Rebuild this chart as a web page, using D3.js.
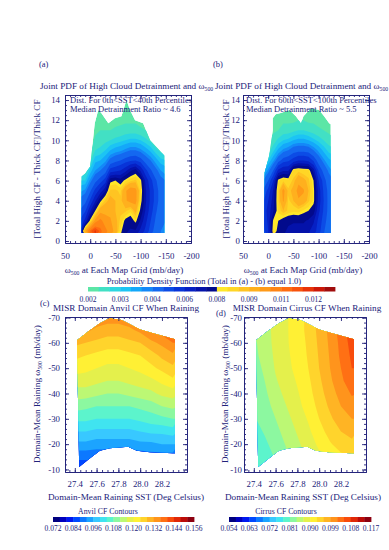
<!DOCTYPE html>
<html>
<head>
<meta charset="utf-8">
<script src="https://cdn.jsdelivr.net/npm/d3@7/dist/d3.min.js"></script>
<style>
  body { margin: 0; background: #fff; }
  svg { display: block; font-family: "Liberation Serif", "DejaVu Serif", serif; }
</style>
</head>
<body>
<svg id="fig" width="389" height="550"></svg>
<script>
(function() {
  'use strict';

  // ---- joint PDF grids (a), (b) ----
  // omega bins (mb/day) and detrainment-ratio bins
  var omegaBins = [20, 10, 0, -10, -20, -30, -40, -50, -60, -70, -80, -90, -100, -110, -120, -130, -140, -150];
  var ratioBins = [14, 13, 12, 11, 10, 9, 8, 7, 6, 5, 4, 3, 2, 1];

  // PDF x 1e-4, one list per omega bin, ratio 14 -> 1
  var pdfLowSst = [
    [20,20,20,20,20,20,22,25,30,36,42,48,54,60],
    [20,20,20,20,20,20,22,25,30,38,45,52,62,95],
    [20,20,20,20,20,22,26,31,38,46,54,66,82,112],
    [20,20,21,22,24,27,32,37,45,55,66,80,100,118],
    [20,20,21,23,25,28,33,40,50,63,78,95,105,112],
    [20,20,21,23,26,30,36,44,56,72,88,95,100,105],
    [20,20,21,23,27,33,42,56,78,88,92,95,98,100],
    [20,20,21,24,28,35,45,58,80,88,90,90,92,95],
    [20,20,22,24,29,36,47,60,76,86,88,88,86,82],
    [20,21,22,25,30,38,50,65,82,96,96,88,78,74],
    [20,21,22,25,31,40,52,72,86,102,100,84,76,72],
    [20,21,22,25,31,40,53,76,88,100,100,92,82,72],
    [20,20,21,24,30,38,50,66,82,85,83,78,72,65],
    [20,20,21,23,28,35,44,55,65,68,68,66,62,58],
    [20,20,20,22,26,32,40,48,55,58,58,56,53,50],
    [20,20,20,21,24,28,35,42,48,50,50,48,46,44],
    [20,20,20,20,22,26,31,37,42,44,44,43,42,40],
    [20,20,20,20,21,25,30,35,40,42,42,41,40,38]
  ];
  var pdfHighSst = [
    [20,20,20,20,20,20,24,30,36,44,48,50,48,46],
    [20,20,20,20,20,22,26,32,40,48,52,54,52,50],
    [20,20,20,20,22,25,30,38,47,55,60,63,62,60],
    [20,20,20,22,25,29,36,47,60,68,70,72,81,84],
    [20,20,21,23,28,34,44,62,82,86,86,84,80,78],
    [20,20,22,25,30,38,50,66,86,100,98,90,76,74],
    [20,20,22,25,31,40,52,66,84,88,86,86,74,72],
    [20,21,22,26,33,44,56,84,88,92,90,84,74,70],
    [20,21,23,27,34,45,60,86,95,100,96,85,74,70],
    [20,21,23,27,34,45,60,84,92,98,94,82,74,70],
    [20,21,22,26,33,44,58,84,88,90,88,80,72,68],
    [20,20,22,25,31,40,52,70,80,82,82,76,68,64],
    [20,20,21,24,29,36,44,52,60,64,64,62,58,56],
    [20,20,21,23,27,32,38,45,50,52,53,52,50,48],
    [20,20,20,22,25,29,34,39,43,45,45,45,44,42],
    [20,20,20,21,24,28,32,36,40,42,42,42,41,40],
    [20,20,20,21,24,28,32,36,40,42,42,42,41,40],
    [20,20,20,21,24,28,32,36,40,42,42,42,41,40]
  ];

  // sampled region outlines
  var outlineLowOmega = [17, 17, 10, 0, -9, -16, -22, -36, -49, -62, -72, -79, -89, -105, -119, -147, -147];
  var outlineLowRatio = [0.8, 6.4, 6.7, 7.4, 11.7, 13.0, 12.7, 11.7, 12.2, 12.4, 14.0, 13.0, 12.0, 11.7, 10.0, 8.5, 0.8];
  var outlineHighOmega = [8, 7, -2, -9, -9, -15, -25, -42, -55, -65, -70, -85, -101, -111, -121, -124, -124];
  var outlineHighRatio = [0.8, 6.8, 8.5, 11.0, 12.2, 12.6, 12.7, 13.0, 12.4, 11.7, 12.4, 13.2, 13.0, 12.4, 11.7, 11.6, 0.8];

  var pdfLevels = [0.0020, 0.0023, 0.0027, 0.0030, 0.0033, 0.0037, 0.0040, 0.0047, 0.0053, 0.0060, 0.0067, 0.0073,
                   0.0080, 0.0083, 0.0087, 0.0090, 0.0097, 0.0103, 0.0110, 0.0113, 0.0117, 0.0120, 0.0125];
  var pdfColors = ['#5ce6a6', '#42e0c4', '#2cd6e0', '#1cc4f4', '#14a8fa', '#1488f8', '#1468f0', '#0c4ce6',
                   '#0834d8', '#0620c4', '#0412aa', '#020a8c',
                   '#ffe82a', '#ffd626', '#ffc422', '#ffb01e', '#ff9a18', '#ff8414', '#ff6c10', '#f8520c',
                   '#e83408', '#cc1808', '#a00c0c'];
  var pdfLabels = ['0.002', '0.003', '0.004', '0.006', '0.008', '0.009', '0.011', '0.012'];

  // ---- cloud fraction grids (c), (d) ----
  var sstBins = [27.4, 27.5, 27.6, 27.7, 27.8, 27.9, 28.0, 28.1, 28.2, 28.3];
  var rainOmegaBins = [-70, -65, -60, -55, -50, -45, -40, -35, -30, -25, -20, -15, -10];

  // CF x 1e-3, one list per omega bin, SST 27.4 -> 28.3
  var anvilCF = [
    [138,137,135,134,134,135,137,140,143,146],
    [134,133,131,130,130,131,133,136,138,141],
    [129,128,127,126,126,127,128,131,133,136],
    [125,124,123,122,122,123,124,126,129,131],
    [122,121,120,119,119,120,121,123,125,127],
    [118,118,117,116,116,117,118,119,121,123],
    [114,114,113,112,112,113,114,115,117,118],
    [110,109,108,108,108,108,109,110,112,113],
    [105,105,104,104,104,104,105,106,107,108],
    [100,100,99,99,99,99,100,101,101,102],
    [95,95,94,94,94,94,95,95,96,96],
    [89,89,89,89,89,89,89,90,90,90],
    [85,85,85,85,85,85,85,85,85,85]
  ];
  var cirrusCF = [
    [84.0,85.8,87.9,89.7,91.5,93.9,96.9,100.2,103.8,107.4],
    [84.0,85.8,87.9,89.7,91.5,93.9,96.9,99.9,103.5,106.8],
    [83.4,85.5,87.9,89.7,91.2,93.6,96.6,99.6,102.9,106.2],
    [83.1,85.2,87.6,89.4,91.2,93.3,96.3,99.3,102.6,105.6],
    [82.5,84.6,87.3,89.1,90.9,93.0,96.0,99.0,102.0,105.0],
    [82.2,84.0,86.7,88.5,90.3,92.4,95.4,98.4,101.4,103.8],
    [81.9,83.4,85.8,87.9,89.7,91.8,94.8,97.5,100.2,102.3],
    [81.3,82.8,84.9,87.0,89.1,91.2,93.9,96.6,99.0,100.8],
    [80.7,82.2,84.0,86.1,88.2,90.3,93.0,95.4,97.8,99.0],
    [79.8,81.3,83.1,85.2,87.3,89.4,91.8,94.2,96.0,97.2],
    [78.9,80.4,82.2,84.3,86.4,88.5,90.6,92.7,94.2,95.1],
    [78.0,79.5,81.3,83.4,85.5,87.6,89.4,91.2,92.4,93.0],
    [77.1,78.6,80.4,82.5,84.6,86.7,88.2,89.7,90.6,91.2]
  ];

  // raining-domain outline (shared by (c) and (d))
  var rainTopSst = [27.42, 27.52, 27.63, 27.72, 27.83, 27.88, 28.0, 28.12, 28.32];
  var rainTopOmega = [-61.0, -64.4, -67.7, -69.7, -69.0, -67.9, -65.3, -63.8, -61.4];
  var rainBotSst = [28.32, 28.30, 28.09, 27.97, 27.89, 27.72, 27.63, 27.54, 27.44];
  var rainBotOmega = [-16.4, -16.4, -16.8, -17.4, -19.0, -18.4, -17.4, -14.4, -11.0];

  var anvilLevels = [0.072, 0.076, 0.080, 0.084, 0.088, 0.092, 0.096, 0.100, 0.104, 0.108, 0.112,
                     0.116, 0.120, 0.124, 0.128, 0.132, 0.136, 0.140, 0.144, 0.148, 0.152];
  var cirrusLevels = [0.054, 0.057, 0.060, 0.063, 0.066, 0.069, 0.072, 0.075, 0.078, 0.081, 0.084,
                      0.087, 0.090, 0.093, 0.096, 0.099, 0.102, 0.105, 0.108, 0.111, 0.114];
  var cfColors = ['#00007f', '#0000bf', '#0018f0', '#0048ff', '#0c78ff', '#1ca4ff', '#38c8ff', '#40e4f0',
                  '#5cf4cc', '#8cf8a0', '#bcf874', '#e4f04c', '#fff034', '#ffd42c', '#ffb424', '#ff941c',
                  '#ff7014', '#f84c0c', '#e02808', '#bc0c08', '#8c0010'];
  var anvilLabels = ['0.072', '0.084', '0.096', '0.108', '0.120', '0.132', '0.144', '0.156'];
  var cirrusLabels = ['0.054', '0.063', '0.072', '0.081', '0.090', '0.099', '0.108', '0.117'];

  var ink = '#22227a';
  var svg = d3.select('#fig');
  var defs = svg.append('defs');

  function txt(x, y, size, s, anchor) {
    return svg.append('text').attr('x', x).attr('y', y)
      .attr('font-size', size).attr('fill', ink)
      .attr('text-anchor', anchor || 'start').text(s);
  }

  // text with an omega-500 subscript in the middle
  function omegaText(sel, before, after, size) {
    sel.attr('font-size', size).attr('fill', ink);
    sel.append('tspan').text(before + '\u03c9');
    sel.append('tspan').attr('font-size', size * 0.62).attr('dy', 2).text('500');
    if (after) sel.append('tspan').attr('dy', -2).text(after);
    return sel;
  }

  // IDL-like box with inward ticks on all four sides
  function frame(x, y, o) {
    var g = svg.append('g').attr('color', ink).attr('font-family', null);
    var xl = x.range()[0], xr = x.range()[1], yb = y.range()[0], yt = y.range()[1];
    function put(axis, tx, ty) {
      var a = g.append('g').attr('transform', 'translate(' + tx + ',' + ty + ')').call(axis);
      a.selectAll('text').attr('font-size', 8.8).attr('fill', ink)
        .attr('font-family', '"Liberation Serif", serif');
      a.selectAll('path, line').attr('stroke', ink).attr('stroke-width', 0.9);
      return a;
    }
    var f = function(d) { return String(d); };
    put(d3.axisBottom(x).tickValues(o.xTicks).tickSize(-4).tickSizeOuter(0).tickPadding(o.xPad).tickFormat(o.xFmt || f), 0, yb);
    put(d3.axisBottom(x).tickValues(o.xMinor).tickSize(-2).tickSizeOuter(0).tickFormat(''), 0, yb);
    put(d3.axisTop(x).tickValues(o.xTicks).tickSize(-4).tickSizeOuter(0).tickFormat(''), 0, yt);
    put(d3.axisTop(x).tickValues(o.xMinor).tickSize(-2).tickSizeOuter(0).tickFormat(''), 0, yt);
    put(d3.axisLeft(y).tickValues(o.yTicks).tickSize(-4).tickSizeOuter(0).tickPadding(o.yPad).tickFormat(f), xl, 0);
    put(d3.axisLeft(y).tickValues(o.yMinor).tickSize(-2).tickSizeOuter(0).tickFormat(''), xl, 0);
    put(d3.axisRight(y).tickValues(o.yTicks).tickSize(-4).tickSizeOuter(0).tickFormat(''), xr, 0);
    put(d3.axisRight(y).tickValues(o.yMinor).tickSize(-2).tickSizeOuter(0).tickFormat(''), xr, 0);
  }

  // filled contours of a grid, clipped to the sampled outline
  function field(id, values, nx, ny, toPx, levels, colors, outline) {
    var contours = d3.contours().size([nx, ny]).thresholds(levels.slice(1))(values);
    var path = d3.geoPath(d3.geoTransform({
      point: function(cx, cy) {
        var p = toPx(cx, cy);
        this.stream.point(p[0], p[1]);
      }
    }));
    var ring = d3.line()(outline) + 'Z';
    defs.append('clipPath').attr('id', id).append('path').attr('d', ring);
    var g = svg.append('g').attr('clip-path', 'url(#' + id + ')');
    g.append('path').attr('d', ring).attr('fill', colors[0]);
    g.selectAll('path.band').data(contours).join('path')
      .attr('class', 'band')
      .attr('d', path)
      .attr('fill', function(d, i) { return colors[i + 1]; });
  }

  function colorBar(x0, x1, y, h, colors, labels, every, labelY) {
    var s = d3.scaleLinear().domain([0, colors.length]).range([x0, x1]);
    svg.append('g').selectAll('rect').data(colors).join('rect')
      .attr('x', function(d, i) { return s(i); })
      .attr('y', y)
      .attr('width', s(1) - s(0) + 0.4)
      .attr('height', h)
      .attr('fill', function(d) { return d; });
    svg.append('g').selectAll('text').data(labels).join('text')
      .attr('x', function(d, i) { return s(i * every); })
      .attr('y', labelY)
      .attr('text-anchor', 'middle')
      .attr('font-size', 7.5)
      .attr('fill', ink)
      .text(function(d) { return d; });
  }

  // ---- panels (a) and (b) ----
  function pdfPanel(left, right, columns, outOmega, outRatio, id) {
    var x = d3.scaleLinear().domain([50, -200]).range([left, right]);
    var y = d3.scaleLinear().domain([-0.2, 14.5]).range([243, 95]);
    var nx = omegaBins.length, ny = ratioBins.length;
    var values = new Array(nx * ny);
    columns.forEach(function(col, i) {
      col.forEach(function(v, j) { values[i + j * nx] = v / 1e4; });
    });
    var dOm = omegaBins[1] - omegaBins[0], dR = ratioBins[1] - ratioBins[0];
    field(id, values, nx, ny, function(cx, cy) {
      return [x(omegaBins[0] + (cx - 0.5) * dOm), y(ratioBins[0] + (cy - 0.5) * dR)];
    }, pdfLevels, pdfColors, outOmega.map(function(o, k) { return [x(o), y(outRatio[k])]; }));
    return {x: x, y: y};
  }

  var pa = pdfPanel(65, 191, pdfLowSst, outlineLowOmega, outlineLowRatio, 'clipA');
  var pb = pdfPanel(243, 369, pdfHighSst, outlineHighOmega, outlineHighRatio, 'clipB');
  var pdfAxes = {
    xTicks: [50, 0, -50, -100, -150, -200],
    xMinor: d3.range(50, -201, -10),
    yTicks: [0, 2, 4, 6, 8, 10, 12, 14],
    yMinor: d3.range(0, 14.6, 0.5),
    xPad: 10
  };
  frame(pa.x, pa.y, Object.assign({yPad: 5}, pdfAxes));
  frame(pb.x, pb.y, Object.assign({yPad: 3}, pdfAxes));

  txt(39, 67, 8.5, '(a)');
  txt(213, 67, 8.5, '(b)');
  omegaText(svg.append('text').attr('x', 40).attr('y', 89), 'Joint PDF of High Cloud Detrainment and ', null, 9.2);
  omegaText(svg.append('text').attr('x', 215).attr('y', 89), 'Joint PDF of High Cloud Detrainment and ', null, 9.2);
  txt(70, 103, 8.5, 'Dist. For 0th<SST<40th Percentiles');
  txt(70, 112, 8.5, 'Median Detrainment Ratio ~ 4.6');
  txt(246, 103, 8.5, 'Dist. For 60th<SST<100th Percentiles');
  txt(246, 112, 8.5, 'Median Detrainment Ratio ~ 5.5');
  txt(0, 0, 9.2, '[Total High CF - Thick CF]/Thick CF', 'middle').attr('transform', 'translate(40,169) rotate(-90)');
  txt(0, 0, 9.2, '[Total High CF - Thick CF]/Thick CF', 'middle').attr('transform', 'translate(229,169) rotate(-90)');
  omegaText(svg.append('text').attr('x', 124).attr('y', 273).attr('text-anchor', 'middle'), '', ' at Each Map Grid (mb/day)', 9.2);
  omegaText(svg.append('text').attr('x', 303).attr('y', 273).attr('text-anchor', 'middle'), '', ' at Each Map Grid (mb/day)', 9.2);

  txt(204, 283.5, 8.5, 'Probability Density Function (Total in (a) - (b) equal 1.0)', 'middle');
  colorBar(88, 335, 287, 4.5, pdfColors, pdfLabels, 3, 301.5);

  // ---- panels (c) and (d) ----
  function cfPanel(left, right, rows, levels, id) {
    var x = d3.scaleLinear().domain([27.31, 28.43]).range([left, right]);
    var y = d3.scaleLinear().domain([-9, -70.2]).range([472, 317]);
    var nx = sstBins.length, ny = rainOmegaBins.length;
    var values = new Array(nx * ny);
    rows.forEach(function(row, j) {
      row.forEach(function(v, i) { values[i + j * nx] = v / 1e3; });
    });
    var dS = sstBins[1] - sstBins[0], dO = rainOmegaBins[1] - rainOmegaBins[0];
    var outline = rainTopSst.map(function(s, k) { return [x(s), y(rainTopOmega[k])]; })
      .concat(rainBotSst.map(function(s, k) { return [x(s), y(rainBotOmega[k])]; }));
    field(id, values, nx, ny, function(cx, cy) {
      return [x(sstBins[0] + (cx - 0.5) * dS), y(rainOmegaBins[0] + (cy - 0.5) * dO)];
    }, levels, cfColors, outline);
    return {x: x, y: y};
  }

  var pc = cfPanel(65, 187, anvilCF, anvilLevels, 'clipC');
  var pd = cfPanel(244, 366, cirrusCF, cirrusLevels, 'clipD');
  var cfAxes = {
    xTicks: [27.4, 27.6, 27.8, 28.0, 28.2],
    xMinor: d3.range(27.35, 28.43, 0.05),
    xFmt: d3.format('.1f'),
    yTicks: [-70, -60, -50, -40, -30, -20, -10],
    yMinor: d3.range(-70, -9, 2),
    xPad: 9
  };
  frame(pc.x, pc.y, Object.assign({yPad: 5}, cfAxes));
  frame(pd.x, pd.y, Object.assign({yPad: 2}, cfAxes));

  txt(40, 306, 8.5, '(c)');
  txt(216, 316, 8.5, '(d)');
  txt(126, 311, 9.2, 'MISR Domain Anvil CF When Raining', 'middle');
  txt(307, 311, 9.2, 'MISR Domain Cirrus CF When Raining', 'middle');
  omegaText(svg.append('text').attr('text-anchor', 'middle').attr('transform', 'translate(40,394) rotate(-90)'),
    'Domain-Mean Raining ', ' (mb/day)', 9.2);
  omegaText(svg.append('text').attr('text-anchor', 'middle').attr('transform', 'translate(228,394) rotate(-90)'),
    'Domain-Mean Raining ', ' (mb/day)', 9.2);
  txt(126, 500, 9.2, 'Domain-Mean Raining SST (Deg Celsius)', 'middle');
  txt(303, 500, 9.2, 'Domain-Mean Raining SST (Deg Celsius)', 'middle');

  txt(108, 514, 7.8, 'Anvil CF Contours', 'middle');
  txt(286, 514, 7.8, 'Cirrus CF Contours', 'middle');
  colorBar(53, 194, 517, 5, cfColors, anvilLabels, 3, 531);
  colorBar(229, 371, 517, 5, cfColors, cirrusLabels, 3, 531);
})();
</script>
</body>
</html>
